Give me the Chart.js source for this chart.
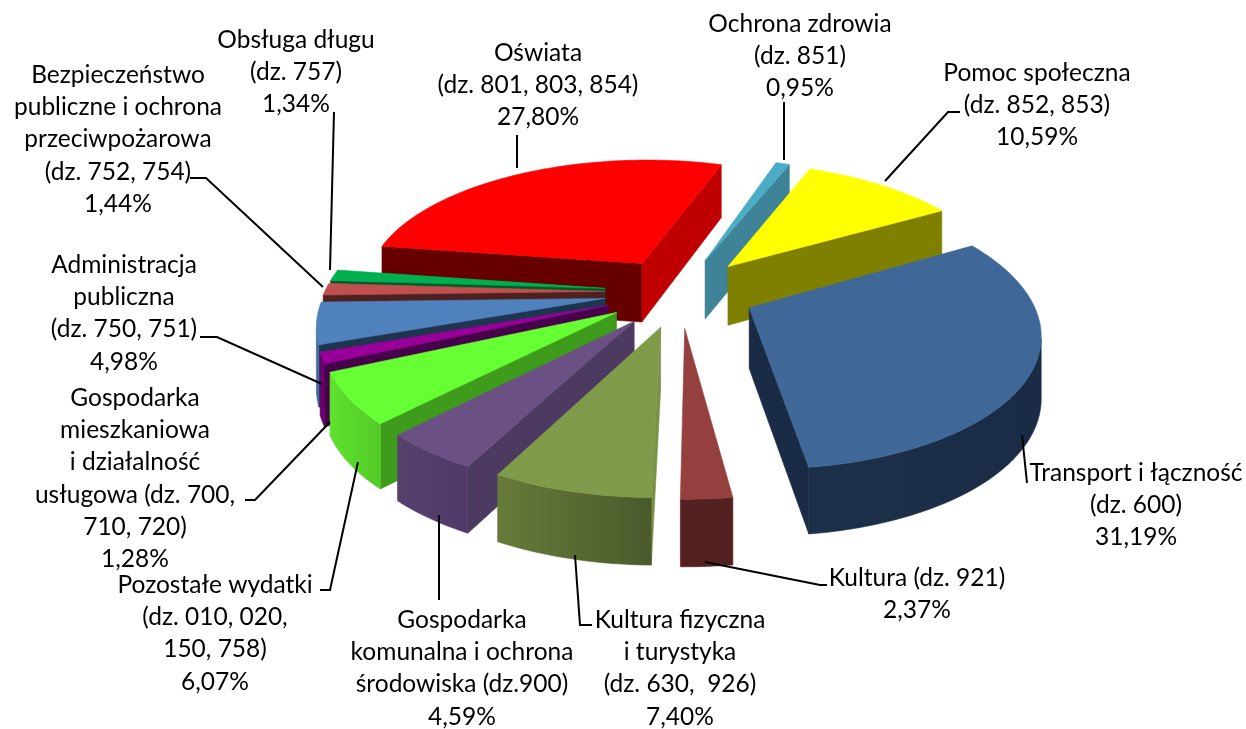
<!DOCTYPE html>
<html>
<head>
<meta charset="utf-8">
<title>Struktura wydatków</title>
<script src="https://cdn.jsdelivr.net/npm/chart.js@4/dist/chart.umd.min.js"></script>
<style>
    html, body { margin: 0; padding: 0; background: #fff; }
    canvas { display: block; }
</style>
</head>
<body>
<canvas id="pie" width="1246" height="729"></canvas>
<script>
// data, clockwise from the first slice
const categories = [
    'Ochrona zdrowia', 'Pomoc społeczna', 'Transport i łączność', 'Kultura',
    'Kultura fizyczna i turystyka', 'Gospodarka komunalna i ochrona środowiska',
    'Pozostałe wydatki', 'Gospodarka mieszkaniowa i działalność usługowa',
    'Administracja publiczna', 'Bezpieczeństwo publiczne i ochrona przeciwpożarowa',
    'Obsługa długu', 'Oświata'
];
const values = [0.95, 10.59, 31.19, 2.37, 7.40, 4.59, 6.07, 1.28, 4.98, 1.44, 1.34, 27.80];
const labelLines = [
    ['Ochrona zdrowia', '(dz. 851)'],
    ['Pomoc społeczna', '(dz. 852, 853)'],
    ['Transport i łączność', '(dz. 600)'],
    ['Kultura (dz. 921)'],
    ['Kultura fizyczna', 'i turystyka', '(dz. 630,  926)'],
    ['Gospodarka', 'komunalna i ochrona', 'środowiska (dz.900)'],
    ['Pozostałe wydatki', '(dz. 010, 020,', '150, 758)'],
    ['Gospodarka', 'mieszkaniowa', 'i działalność', 'usługowa (dz. 700,', '710, 720)'],
    ['Administracja', 'publiczna', '(dz. 750, 751)'],
    ['Bezpieczeństwo', 'publiczne i ochrona', 'przeciwpożarowa', '(dz. 752, 754)'],
    ['Obsługa długu', '(dz. 757)'],
    ['Oświata', '(dz. 801, 803, 854)']
];

// slice colours: top face, straight walls, rounded wall (left and right end)
const topColors = ['#4bacc6', '#ffff00', '#3f6899', '#963f3f', '#7f9a48', '#6a5083',
    '#66ff33', '#990099', '#4f81bd', '#c0504d', '#00b050', '#ff0000'];
const startWallColors = ['#3f8399', '#808000', '#1a2c45', '#542020', '#7b9145', '#4c3a61',
    '#3f9b1c', '#47004a', '#1f344f', '#4f2020', '#005a2a', '#660000'];
const endWallColors = ['#3f8399', '#808000', '#1a2c45', '#542020', '#7b9145', '#4c3a61',
    '#3f9b1c', '#47004a', '#1f344f', '#4f2020', '#005a2a', '#c00000'];
const roundWallLeft = ['#3f8399', '#808000', '#1d3049', '#542020', '#667a39', '#56416d',
    '#5fe02e', '#6a006a', '#3f6899', '#8f3b39', '#007a38', '#660000'];
const roundWallRight = ['#3f8399', '#808000', '#1a2c45', '#542020', '#4a5a2c', '#50396a',
    '#54cc28', '#6a006a', '#3f6899', '#8f3b39', '#007a38', '#660000'];

// where the labels sit: centre x, y of the first line
const labelPos = [[800, 24], [1037, 73], [1136, 473], [917, 578], [680, 620], [462, 620],
    [215, 585], [135, 398], [124, 265], [118, 75], [296, 40], [538, 53]];
const leaders = [
    [[784, 102], [784, 160]],
    [[960, 112], [948, 112], [885, 181]],
    [[1027, 483], [1022, 435]],
    [[827, 585], [820, 585], [705, 562]],
    [[592, 625], [580, 625], [575, 555]],
    [[439, 600], [439, 515]],
    [[320, 590], [330, 590], [358, 462]],
    [[245, 500], [255, 500], [330, 422]],
    [[200, 337], [217, 337], [322, 384]],
    [[190, 178], [206, 178], [323, 287]],
    [[334, 112], [330, 270]],
    [[517, 135], [517, 168]]
];

// how the flat pie is laid into the picture
const view = { cx: 680, cy: 292, kx: 280, ky: 129, persp: 0.165, explode: 0.27, depth: 60 };

function project(arc, angle, r, lift) {
    const mid = (arc.startAngle + arc.endAngle) / 2;
    const X = r * Math.cos(angle) + view.explode * Math.cos(mid);
    const Y = r * Math.sin(angle) + view.explode * Math.sin(mid);
    const w = 1 - view.persp * Y;
    const x = view.cx + view.kx * X / w;
    const y = view.cy + view.ky * Y / w;
    return { x: x, y: lift ? y + view.depth * (1 + 0.1 * Y) : y };
}

function fillPath(ctx, pts, fill) {
    ctx.fillStyle = fill;
    ctx.strokeStyle = fill;
    ctx.lineWidth = 0.6;
    ctx.beginPath();
    pts.forEach((p, n) => n ? ctx.lineTo(p.x, p.y) : ctx.moveTo(p.x, p.y));
    ctx.closePath();
    ctx.fill();
    ctx.stroke();
}

function drawSlice(ctx, arc, i) {
    const steps = Math.max(4, Math.ceil((arc.endAngle - arc.startAngle) * 40));
    const angles = [];
    for (let s = 0; s <= steps; s++) {
        angles.push(arc.startAngle + (arc.endAngle - arc.startAngle) * s / steps);
    }
    const rim = angles.map(a => project(arc, a, 1));
    const rimLow = angles.map(a => project(arc, a, 1, true));
    const apex = project(arc, arc.startAngle, 0);
    const apexLow = project(arc, arc.startAngle, 0, true);
    const xs = rim.map(p => p.x);
    const grad = ctx.createLinearGradient(Math.min(...xs), 0, Math.max(...xs), 0);
    grad.addColorStop(0, roundWallLeft[i]);
    grad.addColorStop(1, roundWallRight[i]);

    // only walls whose top edge runs leftwards face the viewer
    const first = rim[0], last = rim[rim.length - 1];
    if (first.x < apex.x) fillPath(ctx, [apex, first, rimLow[0], apexLow], startWallColors[i]);
    if (apex.x < last.x) fillPath(ctx, [last, apex, apexLow, rimLow[rim.length - 1]], endWallColors[i]);
    let run = [];
    for (let p = 0; p <= rim.length - 1; p++) {
        const facing = p < rim.length - 1 && rim[p + 1].x < rim[p].x;
        if (facing || (run.length && rim[p].x < rim[p - 1].x)) run.push(p);
        if (!facing && run.length) {
            const upper = run.map(n => rim[n]);
            const lower = run.map(n => rimLow[n]).reverse();
            fillPath(ctx, upper.concat(lower), grad);
            run = [];
        }
    }

    fillPath(ctx, [apex].concat(rim), topColors[i]);
}

const pie3d = {
    id: 'pie3d',
    beforeDatasetDraw(chart) {
        const ctx = chart.ctx;
        const arcs = chart.getDatasetMeta(0).data.map((arc, i) => ({ arc: arc, i: i }));
        // back slices first
        arcs.sort((a, b) =>
            Math.sin((a.arc.startAngle + a.arc.endAngle) / 2) - Math.sin((b.arc.startAngle + b.arc.endAngle) / 2));
        ctx.save();
        arcs.forEach(o => drawSlice(ctx, o.arc, o.i));
        ctx.restore();
        return false;
    },
    afterDatasetsDraw(chart) {
        const ctx = chart.ctx;
        ctx.save();
        ctx.strokeStyle = '#000';
        ctx.lineWidth = 2;
        leaders.forEach(line => {
            ctx.beginPath();
            line.forEach((p, n) => n ? ctx.lineTo(p[0], p[1]) : ctx.moveTo(p[0], p[1]));
            ctx.stroke();
        });
        ctx.fillStyle = '#000';
        ctx.font = '24.5px Lato';
        ctx.textAlign = 'center';
        ctx.textBaseline = 'middle';
        labelLines.forEach((lines, i) => {
            const all = lines.concat(values[i].toFixed(2).replace('.', ',') + '%');
            all.forEach((text, n) => ctx.fillText(text, labelPos[i][0], labelPos[i][1] + n * 32.2));
        });
        ctx.restore();
    }
};

new Chart(document.getElementById('pie').getContext('2d'), {
    type: 'pie',
    data: {
        labels: categories,
        datasets: [{ data: values, backgroundColor: topColors, borderWidth: 0 }]
    },
    options: {
        responsive: false,
        animation: false,
        rotation: 18.5,
        plugins: { legend: { display: false }, tooltip: { enabled: false } }
    },
    plugins: [pie3d]
});
</script>
</body>
</html>
